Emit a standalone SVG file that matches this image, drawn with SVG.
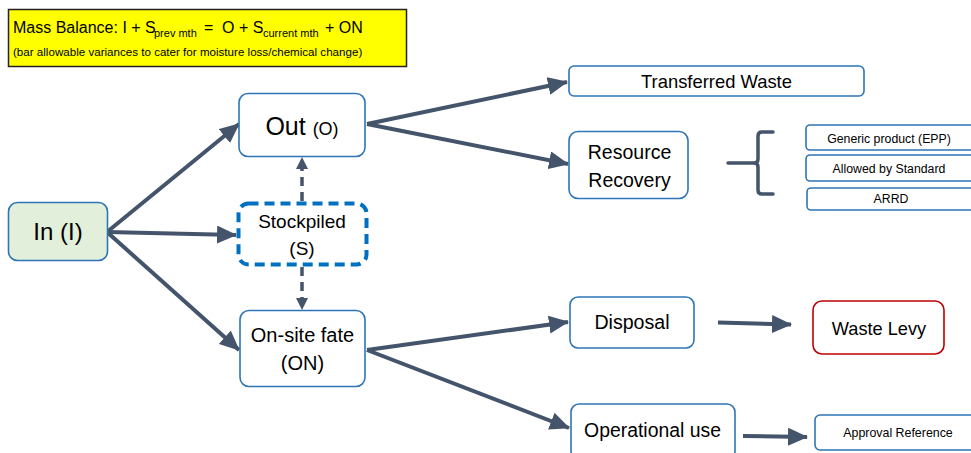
<svg xmlns="http://www.w3.org/2000/svg" width="971" height="453" viewBox="0 0 971 453">
<defs>
<style>
text{font-family:"Liberation Sans",Arial,sans-serif;fill:#000;}
.box{fill:#fff;stroke:#2E75B6;stroke-width:1.6;}
.conn{stroke:#44546A;stroke-width:4;fill:none;marker-end:url(#ah);}
.dconn{stroke:#44546A;stroke-width:3.5;fill:none;stroke-dasharray:9 6;marker-end:url(#ahs);}
</style>
<marker id="ah" markerUnits="userSpaceOnUse" markerWidth="20" markerHeight="18" viewBox="0 0 20 18" refX="19" refY="9" orient="auto">
<path d="M0,0 L20,9 L0,18 Z" fill="#44546A"/>
</marker>
<marker id="ahs" markerUnits="userSpaceOnUse" markerWidth="12" markerHeight="12" viewBox="0 0 12 12" refX="11" refY="6" orient="auto">
<path d="M0,0 L12,6 L0,12 Z" fill="#44546A"/>
</marker>
</defs>

<g id="mass-balance">
<rect x="8.5" y="9.5" width="398" height="57" fill="#FFFF00" stroke="#222" stroke-width="1.5"/>
<text font-size="16"><tspan x="13" y="33">Mass Balance: I + S</tspan><tspan x="154" y="37" font-size="11">prev mth</tspan><tspan x="204" y="33">=</tspan><tspan x="222" y="33">O + S</tspan><tspan x="263" y="37" font-size="11">current mth</tspan><tspan x="325" y="33">+ ON</tspan></text>
<text x="13" y="56" font-size="11.6">(bar allowable variances to cater for moisture loss/chemical change)</text>
</g>

<g id="connectors">
<line class="conn" x1="107" y1="232" x2="239" y2="124"/>
<line class="conn" x1="107" y1="232" x2="236" y2="235"/>
<line class="conn" x1="107" y1="232" x2="239" y2="350"/>
<line class="conn" x1="367" y1="124" x2="567" y2="82"/>
<line class="conn" x1="367" y1="124" x2="568" y2="164"/>
<line class="conn" x1="367" y1="350" x2="568" y2="322"/>
<line class="conn" x1="367" y1="350" x2="569" y2="428"/>
<line class="conn" x1="718" y1="322.5" x2="791" y2="324.5"/>
<line class="conn" x1="743" y1="436" x2="807" y2="437"/>
<line class="dconn" x1="302" y1="201" x2="302" y2="158"/>
<line class="dconn" x1="302" y1="267" x2="302" y2="309"/>
<path d="M728,163 L754,163 Q758,163 758,159 L758,136 Q758,132 762,132 L773,132 M758,167 Q758,163 754,163 M758,167 L758,190 Q758,194 762,194 L773,194" stroke="#44546A" stroke-width="3.5" fill="none" stroke-linecap="round"/>
</g>

<g id="in">
<rect x="8.5" y="202.5" width="99" height="58" rx="9" fill="#E2EFDA" stroke="#2E75B6" stroke-width="1.6"/>
<text x="58" y="240" font-size="24" text-anchor="middle">In (I)</text>
</g>

<g id="out">
<rect class="box" x="239" y="93.5" width="126" height="63" rx="9"/>
<text x="302" y="135" font-size="25" text-anchor="middle">Out <tspan font-size="18">(O)</tspan></text>
</g>

<g id="stockpiled">
<rect x="238.5" y="203.5" width="128" height="61" rx="10" fill="#fff" stroke="#0070C0" stroke-width="4" stroke-dasharray="10 6"/>
<text x="302" y="228" font-size="19" text-anchor="middle">Stockpiled</text>
<text x="302" y="255" font-size="19" text-anchor="middle">(S)</text>
</g>

<g id="onsite">
<rect class="box" x="240" y="310.5" width="125" height="76" rx="9"/>
<text x="302.5" y="342" font-size="20" text-anchor="middle">On-site fate</text>
<text x="302.5" y="370" font-size="20" text-anchor="middle">(ON)</text>
</g>

<g id="transferred">
<rect class="box" x="569" y="66" width="295" height="30" rx="5"/>
<text x="716.5" y="88" font-size="18.4" text-anchor="middle">Transferred Waste</text>
</g>

<g id="resource">
<rect class="box" x="569" y="131.5" width="119" height="67" rx="9"/>
<text x="629.5" y="159" font-size="19.5" text-anchor="middle">Resource</text>
<text x="629.5" y="187" font-size="19.5" text-anchor="middle">Recovery</text>
</g>

<g id="generic">
<rect class="box" x="806" y="125" width="170" height="25" rx="4"/>
<text x="889" y="143" font-size="12.3" text-anchor="middle">Generic product (EPP)</text>
</g>

<g id="allowed">
<rect class="box" x="806" y="155" width="170" height="26" rx="4"/>
<text x="889" y="173" font-size="12.3" text-anchor="middle">Allowed by Standard</text>
</g>

<g id="arrd">
<rect class="box" x="807" y="188" width="170" height="22" rx="4"/>
<text x="891" y="203" font-size="12.3" text-anchor="middle">ARRD</text>
</g>

<g id="disposal">
<rect class="box" x="570" y="297" width="124" height="51" rx="8"/>
<text x="632" y="329" font-size="19.6" text-anchor="middle">Disposal</text>
</g>

<g id="levy">
<rect x="813" y="301" width="131" height="53" rx="9" fill="#fff" stroke="#C00000" stroke-width="1.6"/>
<text x="879" y="335" font-size="18.2" text-anchor="middle">Waste Levy</text>
</g>

<g id="operational">
<rect class="box" x="571" y="404" width="164" height="55" rx="8"/>
<text x="652.5" y="437" font-size="19.4" text-anchor="middle">Operational use</text>
</g>

<g id="approval">
<rect class="box" x="815" y="415" width="165" height="35" rx="5"/>
<text x="898" y="437" font-size="12.4" text-anchor="middle">Approval Reference</text>
</g>
</svg>
